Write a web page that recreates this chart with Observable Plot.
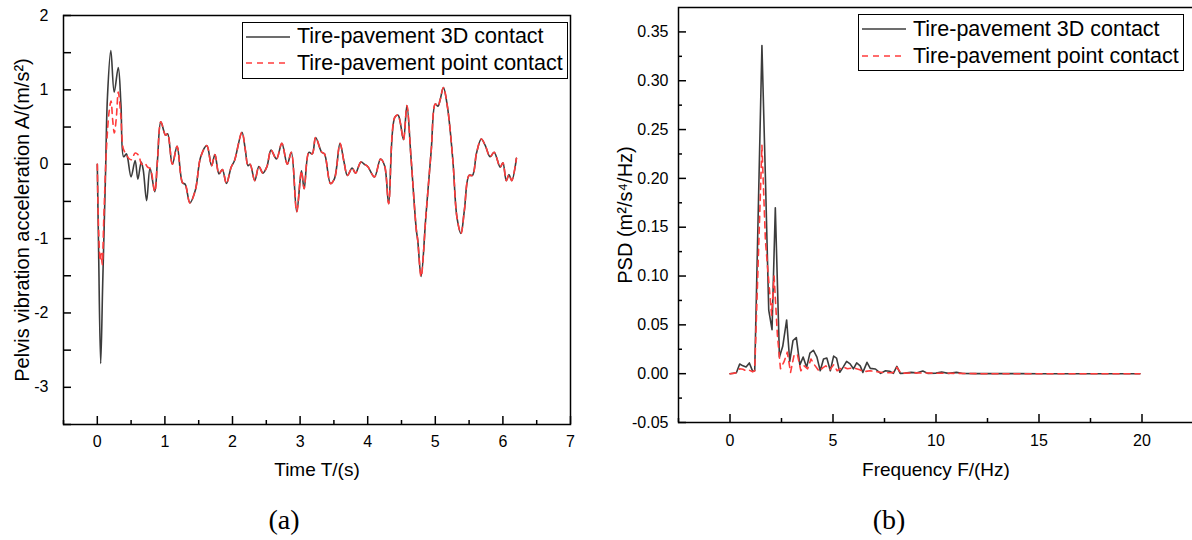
<!DOCTYPE html>
<html><head><meta charset="utf-8">
<script src="https://cdn.jsdelivr.net/npm/d3@7"></script>
<script src="https://cdn.jsdelivr.net/npm/@observablehq/plot@0.6"></script>
<style>
html,body{margin:0;padding:0;background:#fff;}
#wrap{position:relative;width:1192px;height:540px;overflow:hidden;font-family:"Liberation Sans",Arial,sans-serif;}
.panel{position:absolute;top:0;}
.legend{position:absolute;border:1.5px solid #000;background:#fff;box-sizing:border-box;}
.legend .row{position:absolute;display:flex;align-items:center;height:26px;font-size:21.5px;color:#000;white-space:nowrap;}
.legend svg{margin-right:6px;}
.caption{position:absolute;font-family:"Liberation Serif","Times New Roman",serif;font-size:28px;transform:translate(-50%,-50%);line-height:1;}
</style></head><body><div id="wrap"></div>
<script>
// ---------- Panel (a): time history ----------
const time3D = [0, 0.02, 0.05, 0.08, 0.12, 0.15, 0.20, 0.25, 0.31, 0.35, 0.39, 0.43, 0.45, 0.50, 0.56, 0.60, 0.65, 0.68, 0.73, 0.78, 0.85, 0.89, 0.94, 1.01, 1.04, 1.11, 1.18, 1.26, 1.30, 1.37, 1.45, 1.53, 1.62, 1.69, 1.74, 1.80, 1.85, 1.91, 1.98, 2.03, 2.14, 2.19, 2.23, 2.26, 2.33, 2.39, 2.45, 2.51, 2.57, 2.65, 2.73, 2.81, 2.87, 2.95, 3.02, 3.06, 3.13, 3.18, 3.23, 3.32, 3.36, 3.45, 3.51, 3.59, 3.65, 3.70, 3.77, 3.82, 3.90, 3.95, 4.00, 4.10, 4.19, 4.25, 4.31, 4.40, 4.45, 4.48, 4.53, 4.58, 4.64, 4.72, 4.74, 4.79, 4.86, 4.94, 5.00, 5.04, 5.07, 5.12, 5.18, 5.26, 5.32, 5.38, 5.43, 5.50, 5.55, 5.61, 5.68, 5.74, 5.81, 5.87, 5.96, 6.00, 6.05, 6.09, 6.13, 6.20];
const acc3D = [0, -1.2, -2.68, -1.6, -0.2, 0.9, 1.53, 0.97, 1.30, 0.8, 0.1, 0.14, 0.08, -0.17, 0.05, -0.2, 0.03, -0.08, -0.49, -0.05, -0.37, 0.05, 0.57, 0.39, 0.41, 0.0, 0.24, -0.25, -0.27, -0.52, -0.35, 0.1, 0.25, -0.02, 0.13, -0.13, -0.07, -0.26, -0.04, 0.05, 0.43, 0.19, -0.02, 0.0, -0.22, -0.03, -0.12, -0.03, 0.19, 0.07, 0.28, 0.0, 0.16, -0.64, -0.09, -0.33, 0.16, 0.14, 0.36, 0.16, 0.14, -0.26, -0.19, 0.28, 0.03, -0.15, -0.05, -0.12, 0.03, 0.0, -0.03, -0.17, 0.07, -0.02, -0.53, 0.63, 0.66, 0.57, 0.33, 0.79, 0.1, -0.89, -1.02, -1.51, -0.71, 0.19, 0.81, 0.78, 0.86, 1.03, 0.77, 0.05, -0.71, -0.93, -0.62, -0.15, -0.15, 0.15, 0.34, 0.25, 0.1, 0.16, -0.04, 0.02, -0.22, -0.14, -0.22, 0.08];
// point contact differs only during the first ~0.8 s; afterwards it lies on the 3D curve
const pointTimeEarly = [0, 0.02, 0.044, 0.058, 0.073, 0.097, 0.135, 0.174, 0.203, 0.227, 0.252, 0.281, 0.31, 0.348, 0.387, 0.426, 0.464, 0.503, 0.561, 0.61, 0.658, 0.697, 0.745, 0.784];
const pointAccEarly = [0, -0.9, -1.3, -1.2, -1.35, -0.7, 0.2, 0.7, 0.85, 0.6, 0.42, 0.62, 0.97, 0.65, 0.2, 0.14, 0.08, 0.06, 0.15, 0.12, 0.0, 0.02, -0.04, -0.06];
const xTicksA = [0, 1, 2, 3, 4, 5, 6, 7];
const xMinorA = [-0.5, 0.5, 1.5, 2.5, 3.5, 4.5, 5.5, 6.5];
const yTicksA = [-3, -2, -1, 0, 1, 2];
const yMinorA = [-3.5, -2.5, -1.5, -0.5, 0.5, 1.5];

// ---------- Panel (b): PSD ----------
const freq3D = [0, 0.16, 0.31, 0.47, 0.63, 0.78, 0.94, 1.10, 1.20, 1.55, 1.72, 1.88, 2.04, 2.20, 2.40, 2.56, 2.75, 2.90, 3.06, 3.22, 3.39, 3.55, 3.72, 3.88, 4.05, 4.22, 4.38, 4.54, 4.70, 4.87, 5.03, 5.17, 5.33, 5.50, 5.66, 5.83, 5.99, 6.15, 6.32, 6.45, 6.65, 6.81, 7.06, 7.31, 7.55, 7.75, 7.93, 8.10, 8.26, 8.50, 8.79, 9.05, 9.36, 9.60, 10.0, 10.27, 10.6, 11.0, 11.3, 12, 13, 14, 15, 16, 17, 18, 19, 19.9];
const psd3D = [0, 0.0005, 0.001, 0.0099, 0.008, 0.0068, 0.011, 0.0024, 0.003, 0.336, 0.2, 0.065, 0.045, 0.17, 0.017, 0.028, 0.055, 0.0126, 0.034, 0.037, 0.009, 0.017, 0.0065, 0.021, 0.024, 0.017, 0.003, 0.015, 0.016, 0.003, 0.018, 0.016, 0.0014, 0.007, 0.0126, 0.01, 0.005, 0.011, 0.008, 0.0013, 0.0116, 0.0054, 0.0048, 0.0003, 0.003, 0.0025, 0.0003, 0.0075, 0.0003, 0.0006, 0.0013, 0.0008, 0.0027, 0.0003, 0.0006, 0.0017, 0.0003, 0.0013, 0.0002, 0.0001, 0.0001, 0.0001, 0, 0, 0, 0, 0, 0];
const freqPoint = [0, 0.16, 0.31, 0.47, 0.63, 0.78, 0.94, 1.10, 1.20, 1.55, 1.72, 1.88, 2.02, 2.14, 2.30, 2.45, 2.62, 2.78, 2.94, 3.11, 3.27, 3.44, 3.60, 3.77, 3.93, 4.10, 4.33, 4.50, 4.65, 4.85, 5.03, 5.20, 5.50, 5.70, 6.00, 6.30, 6.50, 6.80, 7.10, 7.50, 7.90, 8.10, 8.30, 9.0, 10.0, 11.0, 12, 14, 16, 18, 19.9];
const psdPoint = [0, 0.0003, 0.001, 0.005, 0.0045, 0.003, 0.0035, 0.002, 0.003, 0.234, 0.136, 0.095, 0.06, 0.10, 0.04, 0.005, 0.012, 0.022, 0.0013, 0.019, 0.02, 0.003, 0.008, 0.005, 0.015, 0.009, 0.0025, 0.006, 0.008, 0.004, 0.009, 0.003, 0.007, 0.005, 0.006, 0.004, 0.002, 0.003, 0.002, 0.001, 0.001, 0.0065, 0.0005, 0.0008, 0.0005, 0.0003, 0, 0, 0, 0, 0];
const xTicksB = [0, 5, 10, 15, 20];
const xMinorB = [-2.5, 2.5, 7.5, 12.5, 17.5, 22.5];
const yTicksB = [-0.05, 0, 0.05, 0.10, 0.15, 0.20, 0.25, 0.30, 0.35];
const yMinorB = [-0.025, 0.025, 0.075, 0.125, 0.175, 0.225, 0.275, 0.325];

const seriesNames = ["Tire-pavement 3D contact", "Tire-pavement point contact"];
const DARK = "#3c3c3c", RED = "#ff3c3c";
const FONT = "'Liberation Sans', Arial, sans-serif";

const rowsA3D = time3D.map((t, i) => ({t, a: acc3D[i]}));
const rowsAPoint = pointTimeEarly.map((t, i) => ({t, a: pointAccEarly[i]}))
  .concat(rowsA3D.filter(d => d.t >= 0.85));
const rowsB3D = freq3D.map((f, i) => ({f, p: psd3D[i]}));
const rowsBPoint = freqPoint.map((f, i) => ({f, p: psdPoint[i]}));

const style = {fontFamily: FONT, fontSize: "16px", color: "#000", background: "transparent", overflow: "visible"};

const plotA = Plot.plot({
  width: 600, height: 540,
  marginLeft: 63, marginRight: 30, marginTop: 15, marginBottom: 116,
  x: {domain: [-0.5, 7], label: null},
  y: {domain: [-3.5, 2], label: null},
  style,
  marks: [
    Plot.axisX(xTicksA, {tickSize: -8, tickPadding: 19, strokeWidth: 1.5, tickFormat: d => String(d), label: null}),
    Plot.axisX(xMinorA, {tickSize: -4, strokeWidth: 1.5, tickFormat: () => "", label: null}),
    Plot.axisY(yTicksA, {tickSize: -8, tickPadding: 23, strokeWidth: 1.5, tickFormat: d => String(d), label: null}),
    Plot.axisY(yMinorA, {tickSize: -8, strokeWidth: 1.5, tickFormat: () => "", label: null}),
    Plot.line(rowsA3D, {x: "t", y: "a", stroke: DARK, strokeWidth: 1.6, curve: "catmull-rom"}),
    Plot.line(rowsAPoint, {x: "t", y: "a", stroke: RED, strokeWidth: 1.6, strokeDasharray: "6,5", curve: "catmull-rom"}),
    Plot.frame({stroke: "#000", strokeWidth: 1.5}),
    Plot.text(["Time T/(s)"], {frameAnchor: "bottom", dy: 45, lineAnchor: "middle", fontSize: 19}),
    Plot.text(["Pelvis vibration acceleration A/(m/s²)"], {frameAnchor: "left", dx: -41, textAnchor: "middle", lineAnchor: "middle", rotate: -90, fontSize: 20})
  ]
});

const plotB = Plot.plot({
  width: 602, height: 540,
  marginLeft: 78, marginRight: 9, marginTop: 7, marginBottom: 118,
  x: {domain: [-2.5, 22.5], label: null},
  y: {domain: [-0.05, 0.375], label: null},
  style,
  marks: [
    Plot.axisX(xTicksB, {tickSize: -8, tickPadding: 20, strokeWidth: 1.5, tickFormat: d => String(d), label: null}),
    Plot.axisX(xMinorB, {tickSize: -4, strokeWidth: 1.5, tickFormat: () => "", label: null}),
    Plot.axisY(yTicksB, {tickSize: -8, tickPadding: 18, strokeWidth: 1.5, tickFormat: d => d.toFixed(2), label: null}),
    Plot.axisY(yMinorB, {tickSize: -4, strokeWidth: 1.5, tickFormat: () => "", label: null}),
    Plot.line(rowsB3D, {x: "f", y: "p", stroke: DARK, strokeWidth: 1.6}),
    Plot.line(rowsBPoint, {x: "f", y: "p", stroke: RED, strokeWidth: 1.6, strokeDasharray: "6,5"}),
    Plot.frame({stroke: "#000", strokeWidth: 1.5}),
    Plot.text(["Frequency F/(Hz)"], {frameAnchor: "bottom", dy: 47, lineAnchor: "middle", fontSize: 19}),
    Plot.text(["PSD (m²/s⁴/Hz)"], {frameAnchor: "left", dx: -53, textAnchor: "middle", lineAnchor: "middle", rotate: -90, fontSize: 20})
  ]
});

const wrap = document.getElementById("wrap");
function place(el, left) { el.classList.add("panel"); el.style.left = left + "px"; wrap.appendChild(el); }
place(plotA, 0);
place(plotB, 600);

function legend(left, top, width, height, rowCenters) {
  const box = document.createElement("div");
  box.className = "legend";
  Object.assign(box.style, {left: left + "px", top: top + "px", width: width + "px", height: height + "px"});
  const styles = [{stroke: DARK, dash: null}, {stroke: RED, dash: "6,5"}];
  seriesNames.forEach((name, i) => {
    const row = document.createElement("div");
    row.className = "row";
    row.style.left = "2px";
    row.style.top = (rowCenters[i] - top - 1.5 - 13) + "px";
    row.innerHTML = `<svg width="46" height="4"><line x1="1" x2="45" y1="2" y2="2" stroke="${styles[i].stroke}" stroke-width="1.6" ${styles[i].dash ? `stroke-dasharray="${styles[i].dash}"` : ""}/></svg><span>${name}</span>`;
    box.appendChild(row);
  });
  wrap.appendChild(box);
}
legend(242, 22, 326, 57, [37, 63.5]);
legend(858, 14, 326, 57, [29.5, 56.5]);

function caption(text, x, y) {
  const c = document.createElement("div");
  c.className = "caption";
  c.textContent = text;
  c.style.left = x + "px"; c.style.top = y + "px";
  wrap.appendChild(c);
}
caption("(a)", 284, 520);
caption("(b)", 889, 520);
</script>
</body></html>
